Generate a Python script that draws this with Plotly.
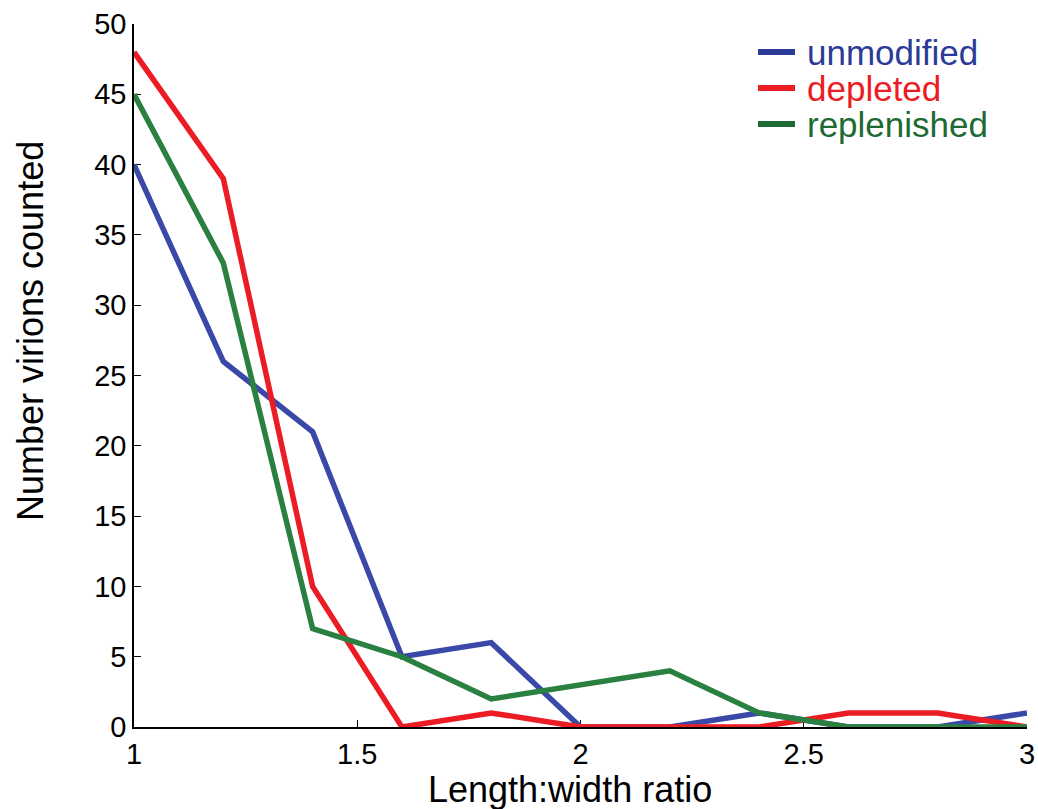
import plotly.graph_objects as go

ratio = [1.0, 1.2, 1.4, 1.6, 1.8, 2.0, 2.2, 2.4, 2.6, 2.8, 3.0]
unmodified = [40, 26, 21, 5, 6, 0, 0, 1, 0, 0, 1]
depleted = [48, 39, 10, 0, 1, 0, 0, 0, 1, 1, 0]
replenished = [45, 33, 7, 5, 2, 3, 4, 1, 0, 0, 0]

x_ticks = [1, 1.5, 2, 2.5, 3]
x_tick_labels = ["1", "1.5", "2", "2.5", "3"]
y_ticks = list(range(0, 51, 5))

series = [
    ("unmodified", unmodified, "#3a49a8", "#2b3b97"),
    ("depleted", depleted, "#ec1c24", "#ed1c24"),
    ("replenished", replenished, "#2a8040", "#1e6a35"),
]

W, H = 1038, 809
L, R, T, B = 134, 11, 24, 82
pw, ph = W - L - R, H - T - B

def px(x):
    return (x - L) / pw

def py(y):
    return (H - B - y) / ph

font = "Liberation Sans, Arial, Helvetica, sans-serif"

fig = go.Figure()
for name, vals, lc, tc in series:
    fig.add_trace(go.Scatter(
        x=ratio, y=vals, mode="lines", name=name,
        line=dict(color=lc, width=5.5),
        cliponaxis=False, showlegend=False,
    ))

# manual legend (tight spacing as in reference)
leg_y = [52, 88, 124]
for (name, vals, lc, tc), yy in zip(series, leg_y):
    fig.add_shape(type="line", xref="paper", yref="paper",
                  x0=px(758), x1=px(795), y0=py(yy), y1=py(yy),
                  line=dict(color=tc, width=6))
    fig.add_annotation(xref="paper", yref="paper", x=px(805), y=py(yy),
                       xanchor="left", yanchor="middle", showarrow=False,
                       text=name, font=dict(size=35, color=tc, family=font))

fig.add_annotation(xref="paper", yref="paper", x=px(570), y=py(789),
                   xanchor="center", yanchor="middle", showarrow=False,
                   text="Length:width ratio", font=dict(size=36, color="black", family=font))
fig.add_annotation(xref="paper", yref="paper", x=px(30), y=py(331),
                   xanchor="center", yanchor="middle", showarrow=False, textangle=-90,
                   text="Number virions counted", font=dict(size=36, color="black", family=font))

fig.update_layout(
    width=W, height=H,
    margin=dict(l=L, r=R, t=T, b=B, autoexpand=False),
    paper_bgcolor="white", plot_bgcolor="white",
    font=dict(family=font, color="black"),
    showlegend=False,
    xaxis=dict(range=[1, 3], tickvals=x_ticks, ticktext=x_tick_labels,
               showgrid=False, zeroline=False, showline=True, linecolor="black",
               linewidth=1.5, ticks="inside", ticklen=7, tickcolor="black",
               tickfont=dict(size=29), layer="below traces", automargin=False),
    yaxis=dict(range=[0, 50], tickvals=y_ticks,
               showgrid=False, zeroline=False, showline=True, linecolor="black",
               linewidth=1.5, ticks="inside", ticklen=7, tickcolor="black",
               tickfont=dict(size=29), layer="below traces", automargin=False),
)
fig.write_html("out.html", config={"displayModeBar": False},
               post_script="document.body.style.margin='0px';document.body.style.overflow='hidden';")
